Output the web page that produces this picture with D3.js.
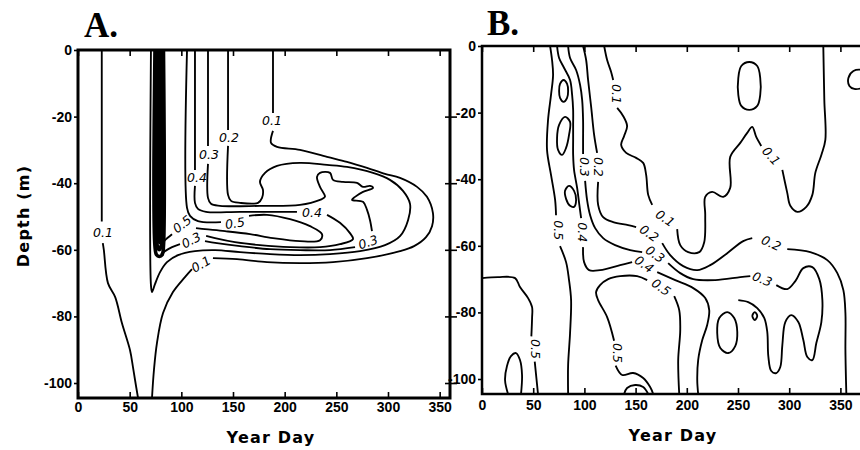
<!DOCTYPE html>
<html>
<head>
<meta charset="utf-8">
<script src="https://cdn.jsdelivr.net/npm/d3@7"></script>
<style>
  body { margin: 0; background: #fff; }
  svg { display: block; }
</style>
</head>
<body>
<svg id="chart" width="860" height="450"></svg>
<script>
// ---- axis values ----
const dayTicks = [0, 50, 100, 150, 200, 250, 300, 350];
const depthTicks = [0, -20, -40, -60, -80, -100];
const depthMin = -104.5;

// ---- panel A contours: [year day, depth m], null = gap for a label ----
const aLeft01 = [[23,0],[23,-51.5],null,[24,-58],[25,-60],[29,-70],[36,-74.2],[42.5,-82],[50.3,-90.1],[53.2,-95.2],[55.2,-99.1],[58.1,-104.5]];
const aRight01 = [[188.7,0],[188.7,-18.9],null,[188.7,-24.3],[186.8,-27.9],[192.6,-29.1],[214.8,-30],[241,-32.1],[260.3,-33.6],[279.7,-35.4],[297.1,-37.2],[311.6,-38.4],[328.1,-41.1],[337.7,-44.1],[343.5,-49],[342.6,-52.9],[336.8,-56.2],[325.2,-58.9],[311.6,-60.4],[279.7,-62.5],[246.8,-63.7],[214.8,-64],[182.9,-63.7],[153.9,-62.8],[130.6,-62.5],null,[110.3,-65.8],[103.5,-68.2],[91.9,-72.7],[82.3,-79],[76.4,-88],[73.5,-96.1],[71.6,-104.5]];
const a02 = [[70.6,0],[70.6,-70.6],[71.6,-72.7],[74.5,-70.3],[79.4,-66.7],[86.1,-63.7],[96.8,-61.6],[113.2,-60.4],[132.6,-60.1],[156.8,-60.7],[185.8,-61.3],[214.8,-61.6],[243.9,-61.3],[272.9,-60.4],[297.1,-58.6],[311.6,-55.9],[319.4,-51.1],[321.3,-46.2],[314.5,-42.3],[301.9,-39],[285.5,-36.9],[260.3,-35.1],[241,-34.5],[214.8,-33.9],[192.6,-34.8],[181,-36.9],[176.1,-39.6],[179,-42],[178.1,-44.4],[174.2,-45.9],[156.8,-45.9],[148.1,-45.3],[145.2,-43.5],[145.2,-28.8],null,[145.2,-24],[145.2,0]];
const a03 = [[125.8,0],[125.8,-28.8],null,[125.8,-34.2],[125.8,-44.4],[128.7,-46.2],[137.4,-46.8],[176.1,-46.8],[214.8,-46.5],[234.2,-45],[239,-44.1],[234.2,-41.1],[231.3,-38.1],[234.2,-36.9],[243.9,-36.9],[246.8,-39],[256.5,-39.6],[270,-39.9],[275.8,-41.1],[282.6,-40.8],[285.5,-41.4],[275.8,-42.6],[268.1,-44.1],[265.2,-45],[275.8,-45.6],[279.7,-48],[282.6,-51.1],[284.5,-54.4],null,[268.1,-59.2],[243.9,-60.1],[214.8,-60.1],[185.8,-59.8],[156.8,-58.9],[134.5,-58],[122.9,-57.4],null,[98.7,-58.3],[91,-59.2],[84.2,-60.4],[80.3,-61.3]];
const a04 = [[113.2,0],[113.2,-36],null,[113.2,-40.8],[113.2,-45.9],[116.1,-47.7],[123.9,-48.6],[156.8,-48.6],[211.9,-48.6],null,[241,-49.5],[253.5,-51.9],[263.2,-55],[266.1,-56.8],[253.5,-58.3],[234.2,-59.2],[205.2,-59.2],[176.1,-58.6],[151.9,-57.7],[132.6,-56.5],[124,-55.8]];
const a05 = [[105.5,0],[105.5,-47.4],[108.4,-49.8],[116.1,-51.4],[138.4,-51.7],null,[165.5,-49.8],[182.9,-49.5],[205.2,-50.8],[224.5,-52.9],[236.1,-55.3],[234.2,-57.1],[214.8,-57.4],[188.7,-56.5],[166.5,-55.3],[142.3,-54.4],[122.9,-53.8],[114.2,-53.5],null,[91,-55.3],[84.2,-57.1],[81.3,-58.3]];
// the packed band of contours near day 75-82
const aBand1 = [[74.5,0],[74.5,-59],[76,-61.5],[78.6,-62],[81.5,-61.5],[82.7,-59],[82.7,0]];
const aBand2 = [[76.2,0],[76.2,-58],[78.6,-60],[81.1,-58],[81.1,0]];
const aBand3 = [[77.9,0],[77.9,-56.5],[78.7,-57.8],[79.5,-56.5],[79.5,0]];

// [text, day, depth, rotation]
const labelsA = [
  ["0.1", 24.2, -54.7, 0],
  ["0.1", 187.7, -21.3, 0],
  ["0.1", 119, -64.3, -30],
  ["0.2", 146.1, -26.4, 0],
  ["0.3", 126.8, -31.5, 0],
  ["0.4", 115.2, -38.4, 0],
  ["0.5", 100.6, -52.3, -38],
  ["0.3", 109.4, -57.1, -28],
  ["0.5", 151.9, -52, -8],
  ["0.4", 226.4, -48.9, 0],
  ["0.3", 280.6, -57.7, -18]
];

// ---- panel B contours ----
const b05Left = [[66.5,0],[68.4,-4.2],[69.4,-8.7],[67.4,-14.7],[64.5,-22.2],[63.5,-31.2],[67.4,-38.7],[71.4,-46.2],[72.3,-50.8],null,[76.2,-60.1],[82.1,-64.9],[85,-70.3],[87,-76.3],[86,-86.2],[84.1,-95.8],[84.1,-104.5]];
const b04 = [[73.3,0],[75.3,-3.6],[80.2,-6.6],[86,-10.2],[88,-14.7],[89,-19.2],[89,-23.7],[89,-28.2],[89,-32.7],[89.9,-37.2],[92.9,-42.6],[94.8,-47.1],[96.8,-51.7],null,[98.7,-60.4],[99.7,-64.9],[104.6,-67.3],[115.3,-67.3],[134.9,-65.8],[146.6,-64.9],null,[171.1,-67.9],[188.7,-70.3],[206.3,-72.7],[218,-75.7],[221.9,-79.3],[219.9,-83.8],[215.1,-88.3],[211.1,-94.3],[210.2,-100.3],[211.1,-104.5]];
const b03 = [[84.1,0],[86,-3.6],[91.9,-7.2],[95.8,-11.7],[97.8,-16.2],[98.7,-22.2],[98.7,-28.2],[98.7,-32.4],null,[100.7,-40.5],[102.6,-46.2],[105.6,-50.8],[110.5,-54.7],[118.3,-57.7],[130,-59.8],[144.7,-61.3],[156.4,-61.9],null,[181.8,-65.2],[193.6,-68.2],[206.3,-70],[227.8,-70.3],[252.2,-69.4],[262,-69.1],null,[287.4,-71.8],[298.1,-73],[306,-70.6],[313.8,-66.7],[322.6,-66.4],[329.4,-70],[332.4,-76.3],[331.4,-82.9],[326.5,-89.2],[322.6,-94.3],[317.7,-93.4],[313.8,-88.3],[308.9,-82.9],[302,-80.8],[296.2,-82.9],[293.3,-89.8],[291.3,-96.4],[287.4,-98.2],[282.5,-97.6],[279.6,-93.1],[278.6,-85.9],[275.7,-81.7],[268.8,-78.7],[260,-76.9],[250.3,-76.3]];
const b02 = [[98.7,0],[101.7,-4.2],[103.6,-10.2],[106.6,-18.3],[109.5,-26.7],[112.4,-32.1],null,[113.4,-40.8],[113.4,-47.7],[118.3,-51.4],[128.1,-52.9],[142.7,-53.8],[150.5,-54.4],null,[176,-59.2],[183.8,-62.8],[196.5,-66.1],[210.2,-67.3],[222.9,-65.8],[239.5,-62.2],[255.1,-58.6],[263.9,-57.7],null,[298.1,-61],[320.6,-61.9],[337.2,-64.3],[347,-68.2],[352.9,-73.3],[354.9,-80.2],[354.9,-91.3],[355.8,-104.5]];
const b01 = [[119.3,0],[122.2,-4.2],[126.1,-7.8],[128.1,-10.2],null,[132,-18.6],[137.8,-21],[141.7,-24],[138.8,-27],[135.9,-29.7],[140.8,-32.1],[150.5,-33.6],[157.4,-35.1],[160.3,-38.7],[162.3,-44.7],[166.2,-47.7],null,[190.6,-55],[193.6,-59.8],[201.4,-61.9],[212.1,-61.9],[217,-58.9],[218,-50.8],[218,-45.3],[224.8,-43.8],[235.6,-45.3],[242.4,-42.6],[242.4,-33.3],[252.2,-29.1],[259,-26.1],[263.9,-24.3],[267.8,-27.3],[272.7,-30],null,[293.3,-37.2],[298.1,-44.1],[301.1,-48],[307.9,-49.8],[316.7,-48.3],[322.6,-44.7],[325.5,-38.1],[331.4,-32.7],[335.3,-28.2],[334.3,-16.2],[333.3,0]];
const b05Mid = [[167.2,-104.5],[164.2,-102.4],[157.4,-99.7],[147.6,-98.2],[136.9,-98.8],[130.5,-96],null,[129,-88.5],[122.2,-81.4],[113.4,-76.3],[111.4,-73.9],[115.3,-71.8],[123.2,-70],[134.9,-69.1],[151.5,-69.1],[161.3,-70.3],null,[187.7,-75.1],[192.6,-79.3],[193.6,-85.3],[191.6,-94.3],[192.6,-104.5]];
const b05LowLeft = [[0,-69.7],[15.6,-69.4],[32.3,-69.7],[37.1,-72.4],[45,-75.7],[48.9,-78.4],[48.9,-81.7],[48.2,-87.2],null,[51.5,-94.8],[54.7,-104.5]];
const bDrop = [[25.4,-104.5],[22.5,-100.3],[24.4,-96.1],[28.3,-93.1],[33.2,-92.2],[37.1,-94.3],[39.1,-98.8],[38.1,-104.5]];
const bDome = [[138.8,-104.5],[141.7,-102.7],[149.6,-101.8],[157.4,-102.4],[162.3,-104.5]];
// closed contours
const bTop01 = [[261,-4.8],[268.8,-6],[271.7,-9.6],[271.7,-14.7],[268.8,-18],[261,-19.2],[253.2,-18],[250.3,-14.7],[250.3,-9.6],[253.2,-6]];
const bEdge01 = [[371.5,-7.2],[362.7,-7.5],[357.8,-9.6],[358.8,-12],[363.6,-12.9],[371.5,-12.6],[379.3,-11.4],[379.3,-8.4]];
const bOval1 = [[79.7,-10.2],[83.1,-11.4],[84.1,-13.5],[83.1,-15.6],[79.7,-16.8],[76.2,-15.6],[75.3,-13.5],[76.2,-11.4]];
const bOval2 = [[81.1,-21.3],[86,-22.8],[85,-26.7],[82.1,-30.6],[78.2,-32.7],[74.3,-31.2],[73.3,-27.6],[75.3,-23.7]];
const bOval3 = [[85,-42],[89.9,-43.5],[91.9,-46.2],[89.9,-48.3],[86,-48],[82.1,-45.9],[81.1,-43.5]];
const bOvalLow = [[239.5,-79.9],[246.3,-81.7],[249.3,-85.9],[247.3,-90.1],[240.5,-92.2],[232.7,-90.7],[229.7,-86.2],[231.7,-81.7]];
const bOvalTiny = [[266.4,-79.9],[268.8,-81.1],[266.4,-82.3],[264,-81.1]];

const labelsB = [
  ["0.1", 131, -14.4, 90],
  ["0.3", 99.7, -36.3, 90],
  ["0.2", 113.4, -36.3, 90],
  ["0.5", 74.3, -55.3, 90],
  ["0.4", 97.8, -55.9, 90],
  ["0.5", 132, -92.2, 90],
  ["0.5", 51.8, -91, 90],
  ["0.1", 178.9, -51.7, 35],
  ["0.2", 163.2, -56.2, 35],
  ["0.3", 169.1, -62.5, 35],
  ["0.4", 158.4, -65.5, 35],
  ["0.5", 175, -72.4, 35],
  ["0.1", 282.5, -33, 48],
  ["0.2", 282.5, -59.2, 25],
  ["0.3", 273.7, -70, 22]
];

// ---- layout ----
const panels = [
  { id: "A", left: 78, right: 450, top: 50, bottom: 398, dayMax: 360,
    open: [aLeft01, aRight01, a02, a03, a04, a05],
    heavy: [aBand1, aBand2, aBand3],
    closed: [], labels: labelsA, border: 3, rightTicks: true,
    titleX: 84, titleY: 37, xTitleX: 271, xTitleY: 443, labelGap: 4 },
  { id: "B", left: 482, right: 866, top: 46, bottom: 394, dayMax: 375,
    open: [b05Left, b04, b03, b02, b01, b05Mid, b05LowLeft, bDrop, bDome],
    heavy: [],
    closed: [bTop01, bEdge01, bOval1, bOval2, bOval3, bOvalLow, bOvalTiny],
    labels: labelsB, border: 2.5, rightTicks: false,
    titleX: 487, titleY: 35, xTitleX: 673, xTitleY: 441, labelGap: 6 }
];

const svg = d3.select("#chart");
svg.append("rect").attr("width", 860).attr("height", 450).attr("fill", "#fff");
const defs = svg.append("defs");

const tickFont = "'Liberation Sans', Arial, sans-serif";

panels.forEach(p => {
  const x = d3.scaleLinear().domain([0, p.dayMax]).range([p.left, p.right]);
  const y = d3.scaleLinear().domain([depthMin, 0]).range([p.bottom, p.top]);

  defs.append("clipPath").attr("id", "clip" + p.id)
    .append("rect")
    .attr("x", p.left).attr("y", p.top)
    .attr("width", p.right - p.left).attr("height", p.bottom - p.top);

  const g = svg.append("g");
  const plot = g.append("g").attr("clip-path", `url(#clip${p.id})`);

  const line = d3.line()
    .defined(d => d)
    .x(d => x(d[0]))
    .y(d => y(d[1]))
    .curve(d3.curveCatmullRom.alpha(0.5));

  const loop = d3.line()
    .x(d => x(d[0]))
    .y(d => y(d[1]))
    .curve(d3.curveCatmullRomClosed.alpha(0.5));

  plot.selectAll("path.open")
    .data(p.open)
    .join("path")
    .attr("class", "open")
    .attr("d", line)
    .attr("fill", "none")
    .attr("stroke", "#000")
    .attr("stroke-width", 1.85)
    .attr("stroke-linejoin", "round");

  plot.selectAll("path.heavy")
    .data(p.heavy)
    .join("path")
    .attr("class", "heavy")
    .attr("d", line)
    .attr("fill", "none")
    .attr("stroke", "#000")
    .attr("stroke-width", 3.6);

  plot.selectAll("path.loop")
    .data(p.closed)
    .join("path")
    .attr("class", "loop")
    .attr("d", loop)
    .attr("fill", "none")
    .attr("stroke", "#000")
    .attr("stroke-width", 1.85);

  plot.selectAll("text")
    .data(p.labels)
    .join("text")
    .attr("transform", d => `translate(${x(d[1])},${y(d[2])}) rotate(${d[3]})`)
    .attr("text-anchor", "middle")
    .attr("dy", "0.36em")
    .attr("font-family", "'DejaVu Sans', sans-serif")
    .attr("font-style", "italic")
    .attr("font-size", 12.5)
    .text(d => d[0]);

  // axes
  const fmt = d => String(d);

  const bottom = g.append("g")
    .attr("transform", `translate(0,${p.bottom})`)
    .call(d3.axisBottom(x).tickValues(dayTicks).tickFormat(fmt)
      .tickSizeInner(-6).tickSizeOuter(0).tickPadding(p.labelGap));

  const top = g.append("g")
    .attr("transform", `translate(0,${p.top})`)
    .call(d3.axisTop(x).tickValues(dayTicks).tickFormat("")
      .tickSizeInner(-6).tickSizeOuter(0));

  const left = g.append("g")
    .attr("transform", `translate(${p.left},0)`)
    .call(d3.axisLeft(y).tickValues(depthTicks).tickFormat(fmt)
      .tickSizeInner(4).tickSizeOuter(0).tickPadding(2));

  const axes = [bottom, top, left];

  if (p.rightTicks) {
    const right = g.append("g")
      .attr("transform", `translate(${p.right},0)`)
      .call(d3.axisRight(y).tickValues(depthTicks.slice(1)).tickFormat("")
        .tickSizeInner(7).tickSizeOuter(0));
    right.selectAll(".tick line").attr("x1", -5);
    axes.push(right);
  }

  axes.forEach(a => {
    a.select(".domain").remove();
    a.selectAll(".tick line").attr("stroke", "#000").attr("stroke-width", 1.6);
    a.selectAll("text")
      .attr("font-family", tickFont)
      .attr("font-weight", "bold")
      .attr("font-size", 14)
      .attr("fill", "#000");
  });

  // frame
  g.append("rect")
    .attr("x", p.left).attr("y", p.top)
    .attr("width", p.right - p.left).attr("height", p.bottom - p.top)
    .attr("fill", "none")
    .attr("stroke", "#000")
    .attr("stroke-width", p.border);

  // panel letter
  g.append("text")
    .attr("x", p.titleX).attr("y", p.titleY)
    .attr("font-family", "'Liberation Serif', 'Times New Roman', serif")
    .attr("font-weight", "bold")
    .attr("font-size", 35)
    .text(p.id + ".");

  // x title
  g.append("text")
    .attr("x", p.xTitleX).attr("y", p.xTitleY)
    .attr("text-anchor", "middle")
    .attr("font-family", "'DejaVu Sans', sans-serif")
    .attr("font-weight", "bold")
    .attr("font-size", 16)
    .attr("letter-spacing", 1.2)
    .text("Year Day");
});

// y title (shared, left of panel A)
svg.append("text")
  .attr("transform", "translate(29,216) rotate(-90)")
  .attr("text-anchor", "middle")
  .attr("font-family", "'DejaVu Sans', sans-serif")
  .attr("font-weight", "bold")
  .attr("font-size", 16)
  .attr("letter-spacing", 1.2)
  .text("Depth (m)");
</script>
</body>
</html>
